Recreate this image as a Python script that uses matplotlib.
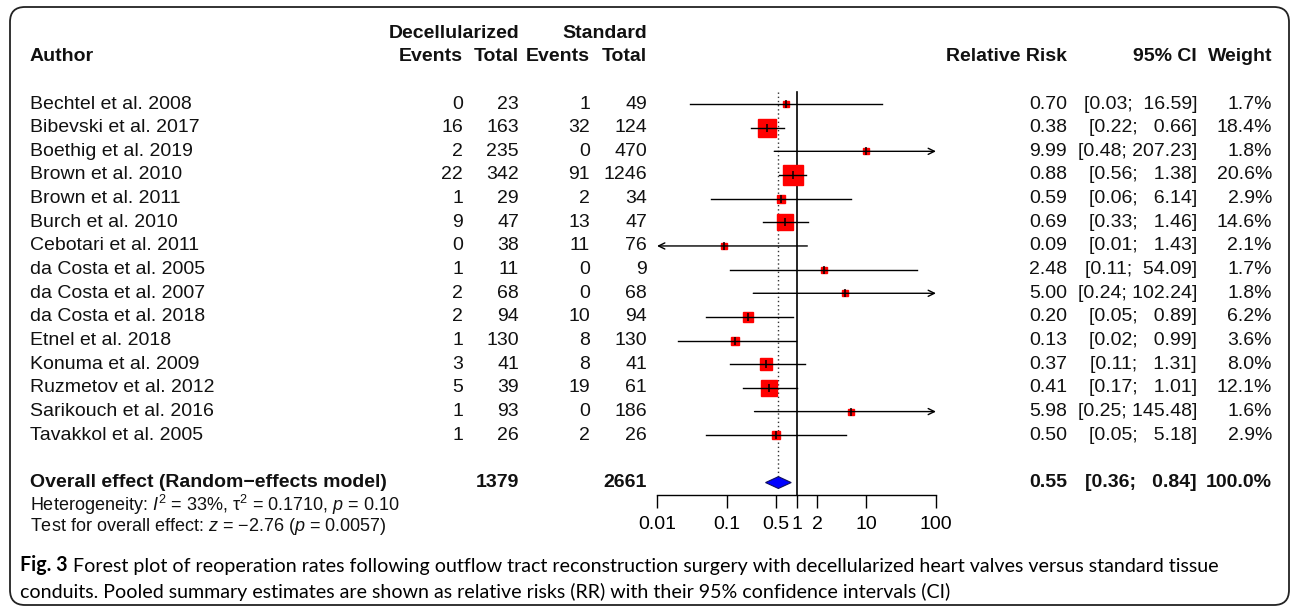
import matplotlib
matplotlib.use('Agg')
import matplotlib.pyplot as plt
import matplotlib.transforms as mtransforms
from matplotlib import font_manager
from matplotlib.patches import FancyBboxPatch
from matplotlib.ticker import NullLocator
import numpy as np

plt.rcParams['font.family'] = ['Liberation Sans', 'DejaVu Sans']
plt.rcParams['mathtext.fontset'] = 'custom'
plt.rcParams['mathtext.rm'] = 'Liberation Sans'
plt.rcParams['mathtext.it'] = 'Liberation Sans:italic'
plt.rcParams['axes.unicode_minus'] = True

# data
authors = ["Bechtel et al. 2008", "Bibevski et al. 2017", "Boethig et al. 2019",
           "Brown et al. 2010", "Brown et al. 2011", "Burch et al. 2010",
           "Cebotari et al. 2011", "da Costa et al. 2005", "da Costa et al. 2007",
           "da Costa et al. 2018", "Etnel et al. 2018", "Konuma et al. 2009",
           "Ruzmetov et al. 2012", "Sarikouch et al. 2016", "Tavakkol et al. 2005"]
dec_events = [0, 16, 2, 22, 1, 9, 0, 1, 2, 2, 1, 3, 5, 1, 1]
dec_total = [23, 163, 235, 342, 29, 47, 38, 11, 68, 94, 130, 41, 39, 93, 26]
std_events = [1, 32, 0, 91, 2, 13, 11, 0, 0, 10, 8, 8, 19, 0, 2]
std_total = [49, 124, 470, 1246, 34, 47, 76, 9, 68, 94, 130, 41, 61, 186, 26]
rr = [0.70, 0.38, 9.99, 0.88, 0.59, 0.69, 0.09, 2.48, 5.00, 0.20, 0.13, 0.37, 0.41, 5.98, 0.50]
ci_lo = [0.03, 0.22, 0.48, 0.56, 0.06, 0.33, 0.01, 0.11, 0.24, 0.05, 0.02, 0.11, 0.17, 0.25, 0.05]
ci_hi = [16.59, 0.66, 207.23, 1.38, 6.14, 1.46, 1.43, 54.09, 102.24, 0.89, 0.99, 1.31, 1.01, 145.48, 5.18]
weight = [1.7, 18.4, 1.8, 20.6, 2.9, 14.6, 2.1, 1.7, 1.8, 6.2, 3.6, 8.0, 12.1, 1.6, 2.9]

pooled_rr, pooled_lo, pooled_hi = 0.55, 0.36, 0.84
pooled_dec_total, pooled_std_total = 1379, 2661
pooled_weight = 100.0

xticks = [0.01, 0.1, 0.5, 1, 2, 10, 100]
xticklabels = ["0.01", "0.1", "0.5", "1", "2", "10", "100"]

heterogeneity = r"Heterogeneity: $I^2$ = 33%, τ$^2$ = 0.1710, $p$ = 0.10"
overall_test = r"Test for overall effect: $z$ = −2.76 ($p$ = 0.0057)"
caption_bold = "Fig. 3"
caption_1 = (" Forest plot of reoperation rates following outflow tract reconstruction "
             "surgery with decellularized heart valves versus standard tissue")
caption_2 = ("conduits. Pooled summary estimates are shown as relative risks (RR) "
             "with their 95% confidence intervals (CI)")

W, H = 1292, 611
fig = plt.figure(figsize=(W / 100, H / 100), dpi=100)

row0, row_h = 104, 23.66
ytop, ybot = -3.5, 18.5
xmin, xmax = 0.01, 100
ax = fig.add_axes([657 / W, 1 - (row0 + ybot * row_h) / H,
                   (936 - 657) / W, (ybot - ytop) * row_h / H])
ax.set_xscale('log')
ax.set_xlim(xmin, xmax)
ax.set_ylim(ybot, ytop)
ax.patch.set_visible(False)
for s in ['left', 'right', 'top']:
    ax.spines[s].set_visible(False)
axis_row = 16.53
ax.spines['bottom'].set_position(('data', axis_row))
ax.spines['bottom'].set_linewidth(1.0)
ax.set_xticks(xticks)
ax.set_xticklabels(xticklabels)
ax.xaxis.set_minor_locator(NullLocator())
ax.tick_params(axis='x', direction='out', length=9.4, width=1.0, pad=6, labelsize=14)
ax.set_yticks([])

n = len(authors)
ov = n + 1  # row of the pooled estimate

# reference lines
ax.plot([1, 1], [-0.5, axis_row], color='black', lw=1.2, zorder=2)
ax.plot([pooled_rr, pooled_rr], [-0.5, ov - 0.25], color='#333333', lw=1.0,
        ls=(0, (1, 2)), zorder=2)

for i in range(n):
    side = 4.4 * np.sqrt(weight[i]) * 0.72
    ax.plot(rr[i], i, marker='s', ms=side, color='red', mec='red', zorder=3)
    lo = max(ci_lo[i], xmin)
    hi = min(ci_hi[i], xmax)
    if ci_hi[i] > xmax:
        ax.annotate('', xy=(xmax, i), xytext=(lo, i), annotation_clip=False,
                    arrowprops=dict(arrowstyle='->,head_length=0.45,head_width=0.22',
                                    color='black', lw=1.0, shrinkA=0, shrinkB=0), zorder=4)
    elif ci_lo[i] <= xmin:
        ax.annotate('', xy=(xmin, i), xytext=(hi, i), annotation_clip=False,
                    arrowprops=dict(arrowstyle='->,head_length=0.45,head_width=0.22',
                                    color='black', lw=1.0, shrinkA=0, shrinkB=0), zorder=4)
    else:
        ax.plot([lo, hi], [i, i], color='black', lw=1.0, zorder=4)
    ax.plot(rr[i], i, marker='|', ms=5.8, mew=1.1, color='black', zorder=5)

ax.fill([pooled_lo, pooled_rr, pooled_hi, pooled_rr],
        [ov, ov - 0.25, ov, ov + 0.25], facecolor='#0000ff', edgecolor='#101060',
        lw=0.8, zorder=4)

# text columns
tr = mtransforms.blended_transform_factory(fig.transFigure, ax.transData)
fs = 14
tc = '#111111'


def put(px, row, s, ha='right', bold=False, size=fs):
    ax.text(px / W, row, s, transform=tr, ha=ha, va='center', fontsize=size,
            fontweight='bold' if bold else 'normal', color=tc)


put(519, -3, "Decellularized", bold=True)
put(647, -3, "Standard", bold=True)
put(30, -2, "Author", ha='left', bold=True)
put(463, -2, "Events", bold=True)
put(519, -2, "Total", bold=True)
put(590, -2, "Events", bold=True)
put(647, -2, "Total", bold=True)
put(1067, -2, "Relative Risk", bold=True)
put(1197, -2, "95% CI", bold=True)
put(1272, -2, "Weight", bold=True)

up_w = max(len(f"{v:.2f}") for v in ci_hi + [pooled_hi])
lo_w = max(len(f"{v:.2f}") for v in ci_lo + [pooled_lo])


def ci_text(lo, hi):
    return "[" + f"{lo:.2f}".rjust(lo_w) + "; " + f"{hi:.2f}".rjust(up_w) + "]"


for i in range(n):
    put(30, i, authors[i], ha='left')
    put(463, i, str(dec_events[i]))
    put(519, i, str(dec_total[i]))
    put(590, i, str(std_events[i]))
    put(647, i, str(std_total[i]))
    put(1067, i, f"{rr[i]:.2f}")
    put(1197, i, ci_text(ci_lo[i], ci_hi[i]))
    put(1272, i, f"{weight[i]:.1f}%")

put(30, ov, "Overall effect (Random−effects model)", ha='left', bold=True)
put(519, ov, str(pooled_dec_total), bold=True)
put(647, ov, str(pooled_std_total), bold=True)
put(1067, ov, f"{pooled_rr:.2f}", bold=True)
put(1197, ov, ci_text(pooled_lo, pooled_hi), bold=True)
put(1272, ov, f"{pooled_weight:.1f}%", bold=True)
put(30, ov + 0.95, heterogeneity, ha='left', size=13)
put(30, ov + 1.84, overall_test, ha='left', size=13)

# caption
cap_font = 'Lato'
for name in ['Liberation Sans Narrow', 'Lato']:
    try:
        font_manager.findfont(name, fallback_to_default=False)
        cap_font = name
        break
    except Exception:
        pass

cs = 14
c0 = fig.text(20 / W, 1 - 565 / H, caption_bold, fontweight='bold', family=cap_font,
              fontsize=cs, va='center', color='black')
c1 = fig.text(0, 0, caption_1, family=cap_font, fontsize=cs, color='black')
renderer = fig.canvas.get_renderer()
wsum = c0.get_window_extent(renderer).width + c1.get_window_extent(renderer).width
cs = cs * (1218 - 20) / wsum
c1.remove()
c0.set_fontsize(cs)
ax.annotate(caption_1, xy=(1, 0), xycoords=c0, ha='left', va='bottom',
            family=cap_font, fontsize=cs, color='black')
fig.text(20 / W, 1 - 592 / H, caption_2, family=cap_font, fontsize=cs,
         va='center', color='black')

# rounded frame
frame = FancyBboxPatch((0.10, 0.06), 12.79, 5.98, boxstyle="round,pad=0,rounding_size=0.15",
                       transform=fig.dpi_scale_trans, fill=False, edgecolor='#222222', lw=1.3)
fig.add_artist(frame)

fig.savefig("out.png", dpi=100)
